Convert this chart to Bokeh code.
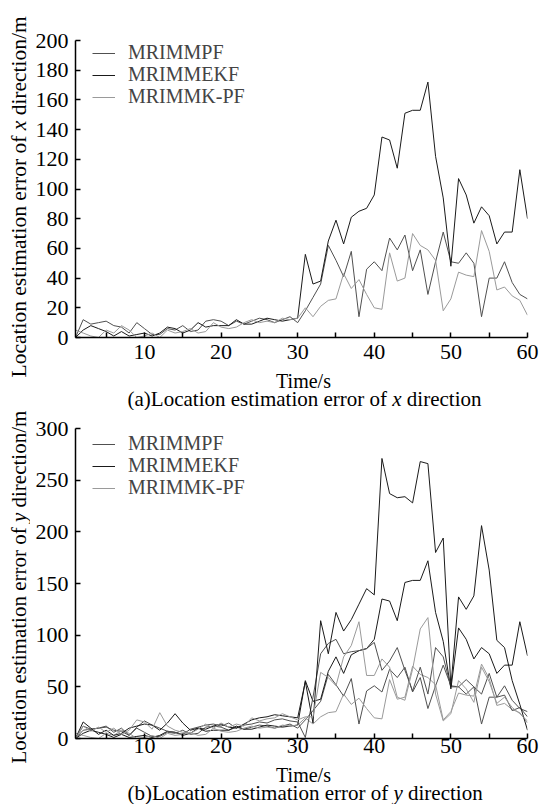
import math
from bokeh.plotting import figure
from bokeh.models import Label, Legend, LegendItem, FixedTicker
from bokeh.layouts import column, row
from bokeh.embed import file_html
from bokeh.resources import INLINE

# ---------------- data ----------------
time_s = list(range(1, 61))

# (a) x direction
x_mrimmpf = [0, 12, 9, 10, 11, 8, 7, 3, 10, 6, 2, 2, 6, 5, 8, 4, 5, 11, 12, 11,
             8, 11, 9, 11, 13, 12, 10, 12, 14, 10,
             18, 27, 36, 62, 52, 41, 58, 14, 46, 51, 45, 67, 59, 69, 45, 59, 29, 51, 71, 51,
             50, 57, 50, 14, 40, 40, 51, 37, 29, 26]
x_mrimmekf = [0, 5, 8, 6, 4, 1, 4, 1, 2, 3, 1, 3, 7, 6, 3, 5, 10, 7, 8, 8,
              8, 12, 9, 9, 11, 13, 12, 11, 12, 13,
              56, 36, 38, 65, 79, 63, 81, 85, 87, 96, 135, 133, 114, 151, 153, 153, 172, 122, 94, 48,
              107, 96, 77, 88, 82, 63, 71, 71, 113, 80]
x_mrimmkpf = [5, 3, 1, 0, 5, 3, 8, 5, 0, 1, 3, 0, 5, 3, 4, 6, 3, 4, 10, 7,
              6, 7, 10, 12, 10, 11, 10, 13, 12, 13,
              20, 14, 21, 25, 26, 43, 33, 39, 29, 20, 19, 57, 38, 40, 70, 62, 59, 52, 18, 26,
              44, 42, 41, 72, 58, 32, 34, 28, 25, 15]

# (b) y direction
y_mrimmpf = [0, 8, 9, 10, 12, 6, 10, 3, 11, 17, 13, 10, 7, 6, 4, 9, 11, 13, 14, 12,
             15, 10, 13, 14, 16, 15, 18, 19, 17, 16,
             1, 40, 82, 92, 96, 82, 84, 85, 87, 93, 66, 75, 88, 66, 46, 69, 43, 88, 79, 50,
             50, 43, 50, 43, 63, 40, 42, 27, 30, 21]
y_mrimmekf = [0, 16, 10, 4, 8, 3, 5, 10, 12, 14, 13, 8, 15, 24, 15, 8, 10, 9, 12, 14,
              11, 10, 14, 18, 20, 21, 23, 22, 21, 20,
              55, 15, 114, 82, 122, 104, 115, 130, 145, 139, 271, 237, 233, 234, 228, 268, 266, 180, 194, 50,
              137, 125, 138, 206, 163, 95, 88, 56, 33, 8]
y_mrimmkpf = [0, 12, 7, 11, 6, 10, 4, 8, 18, 16, 9, 25, 12, 8, 6, 5, 9, 14, 10, 15,
              11, 14, 12, 20, 17, 19, 20, 24, 21, 18,
              21, 21, 64, 59, 51, 79, 90, 113, 61, 61, 77, 69, 40, 37, 67, 106, 117, 43, 17, 24,
              56, 48, 35, 69, 55, 34, 40, 30, 24, 17]

series_names = ["MRIMMPF", "MRIMMEKF", "MRIMMK-PF"]
x_major_ticks = [10, 20, 30, 40, 50, 60]
x_minor_ticks = [5, 15, 25, 35, 45, 55]
top_y_ticks = [0, 20, 40, 60, 80, 100, 120, 140, 160, 180, 200]
bottom_y_ticks = [0, 50, 100, 150, 200, 250, 300]

FONT = "Liberation Serif"
COLORS = ["#505050", "#1a1a1a", "#9a9a9a"]
STRIP_W = 30
FRAME_W = 452
BORDER_L = 45
BORDER_R = 12


def add_text(p, x, y, text, align="center", italic=False, angle=0.0, size=21):
    p.add_layout(Label(x=x, y=y, x_units="screen", y_units="screen", text=text,
                       text_font=FONT, text_font_size=f"{size}px",
                       text_font_style="italic" if italic else "normal",
                       text_align=align, text_baseline="middle", angle=angle,
                       text_color="black"))


def blank(w, h, bl=0, br=0):
    p = figure(frame_width=w, frame_height=h, x_range=(0, 1), y_range=(0, 1),
               x_axis_type=None, y_axis_type=None, min_border=0,
               min_border_left=bl, min_border_right=br, min_border_top=0, min_border_bottom=0,
               output_backend="svg", toolbar_location=None)
    p.outline_line_color = None
    p.background_fill_color = "white"
    p.border_fill_color = "white"
    return p


def y_label_strip(h, y_start, var, size):
    p = blank(STRIP_W, h)
    w1 = 11.248 * size
    sp = 0.25 * size
    wv = 0.444 * size
    P = y_start + w1 + sp
    a = math.pi / 2
    cx = 18.5
    add_text(p, cx, P - sp, "Location estimation error of", align="right", angle=a, size=size)
    add_text(p, cx, P, var, align="left", italic=True, angle=a, size=size)
    add_text(p, cx, P + wv + sp, "direction/m", align="left", angle=a, size=size)
    return p


def caption_strip(h, y_time, y_cap, prefix_em, prefix, var, size=21):
    # frame aligned with the plot frame above (left edge at page x 75)
    p = blank(FRAME_W, h, BORDER_L, BORDER_R)
    add_text(p, 228, y_time, "Time/s", size=20)
    sp = 0.25 * size
    wv = 0.444 * size
    P = 52 + prefix_em * size + sp
    add_text(p, P - sp, y_cap, prefix + "Location estimation error of", align="right", size=size)
    add_text(p, P, y_cap, var, align="left", italic=True, size=size)
    add_text(p, P + wv + sp, y_cap, "direction", align="left", size=size)
    return p


def make_fig(frame_h, top_b, bottom_b, ymax, yticks, label_standoff):
    p = figure(frame_width=FRAME_W, frame_height=frame_h,
               min_border_left=BORDER_L, min_border_right=BORDER_R,
               min_border_top=top_b, min_border_bottom=bottom_b,
               x_range=(1, 60), y_range=(0, ymax),
               output_backend="svg", toolbar_location=None)
    p.grid.visible = False
    p.outline_line_color = None
    p.background_fill_color = "white"
    p.border_fill_color = "white"
    for ax in (p.xaxis[0], p.yaxis[0]):
        ax.axis_line_color = "black"
        ax.axis_line_width = 1.5
        ax.major_tick_line_color = "black"
        ax.major_tick_line_width = 1.5
        ax.minor_tick_line_color = "black"
        ax.minor_tick_line_width = 1.5
        ax.major_tick_in = 5
        ax.major_tick_out = 0
        ax.major_label_text_font = FONT
        ax.major_label_text_font_size = "22px"
        ax.major_label_text_color = "black"
    p.xaxis.ticker = FixedTicker(ticks=x_major_ticks, minor_ticks=x_minor_ticks)
    p.xaxis.minor_tick_in = 5
    p.xaxis.minor_tick_out = 0
    p.xaxis.major_label_standoff = label_standoff
    p.yaxis.ticker = FixedTicker(ticks=yticks)
    p.yaxis.minor_tick_in = 0
    p.yaxis.minor_tick_out = 0
    p.yaxis.major_label_standoff = 7
    return p


def add_legend_rows(p, renderers, vys):
    # one single-item legend per row so the row pitch matches the reference
    for name, r, vy in zip(series_names, renderers, vys):
        lg = Legend(items=[LegendItem(label=name, renderers=[r])],
                    location=(17, vy), padding=0, margin=0, spacing=0,
                    glyph_width=23, glyph_height=20, label_height=20, label_standoff=13,
                    label_text_font=FONT, label_text_font_size="20px",
                    border_line_color=None, background_fill_alpha=0)
        p.add_layout(lg, "center")


# ---------------- (a) ----------------
pa = make_fig(297, 40, 32, 200, top_y_ticks, 7)
ra = []
for vals, col in zip([x_mrimmpf, x_mrimmekf, x_mrimmkpf], COLORS):
    ra.append(pa.line(time_s, vals, line_color=col, line_width=1))
add_legend_rows(pa, ra, [273, 251, 229])
cap_a = caption_strip(410 - 369, 30, 12, 12.358, "(a)", "x")
yl_a = y_label_strip(410, 33, "x", 21.5)

# ---------------- (b) ----------------
pb = make_fig(310, 18, 25, 300, bottom_y_ticks, 0)
for vals, col in zip([x_mrimmpf, x_mrimmekf, x_mrimmkpf], COLORS):
    pb.line(time_s, vals, line_color=col, line_width=1)
rb = []
for vals, col in zip([y_mrimmpf, y_mrimmekf, y_mrimmkpf], COLORS):
    rb.append(pb.line(time_s, vals, line_color=col, line_width=1))
add_legend_rows(pb, rb, [283, 261, 239])
cap_b = caption_strip(804 - 763, 30, 12, 12.414, "(b)", "y")
yl_b = y_label_strip(394, 41, "y", 21)

layout = column(
    row(yl_a, column(pa, cap_a, spacing=0), spacing=0),
    row(yl_b, column(pb, cap_b, spacing=0), spacing=0),
    spacing=0,
)
open("out.html", "w").write(file_html(layout, INLINE))
